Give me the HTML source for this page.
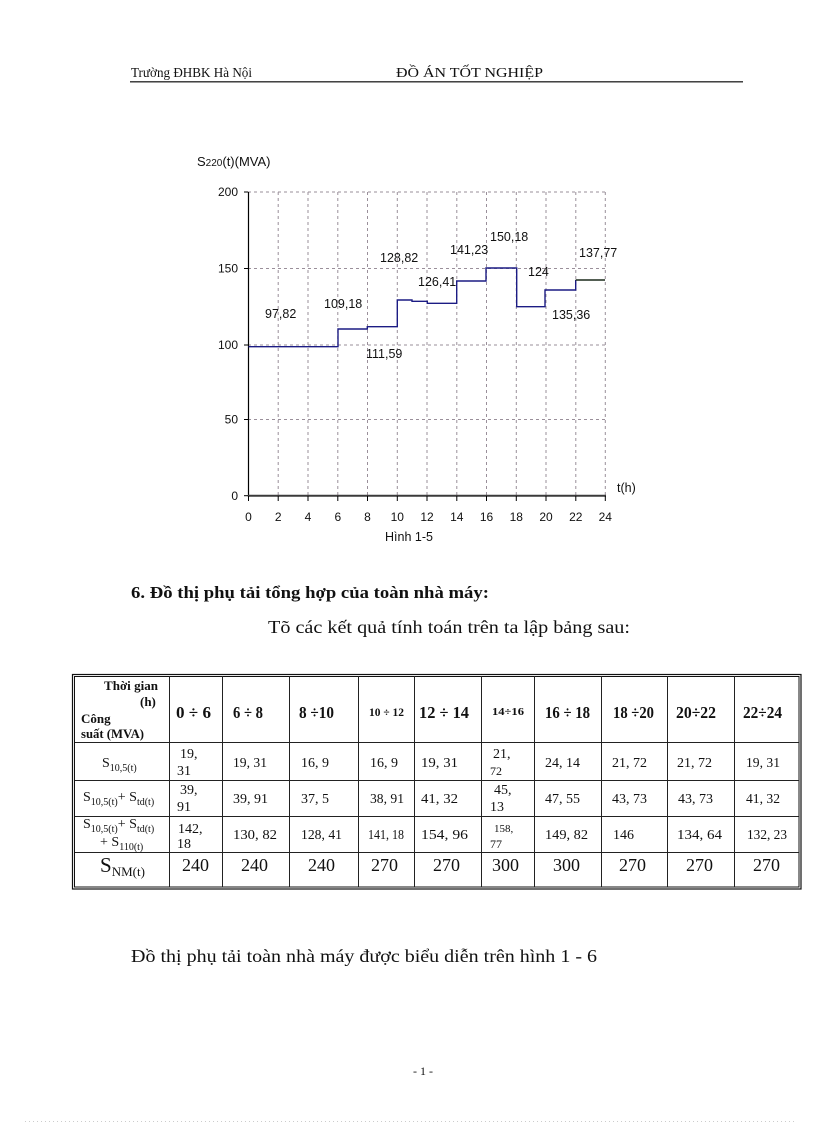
<!DOCTYPE html>
<html><head><meta charset="utf-8"><style>
html,body{margin:0;padding:0;background:#fff;}
svg{display:block;}
.ser{font-family:"Liberation Serif","DejaVu Serif",serif;}
.san{font-family:"Liberation Sans","DejaVu Sans",sans-serif;}
</style></head><body>
<svg width="816" height="1123" viewBox="0 0 816 1123" xmlns="http://www.w3.org/2000/svg">
<rect width="816" height="1123" fill="#fff"/>
<!-- header -->
<g class="ser" font-size="14" fill="#111">
<text x="131" y="77" textLength="121" lengthAdjust="spacingAndGlyphs">Trường  ĐHBK  Hà  Nội</text>
<text x="396" y="77" textLength="147" lengthAdjust="spacingAndGlyphs">ĐỒ ÁN TỐT NGHIỆP</text>
</g>
<line x1="130" y1="81.5" x2="743" y2="81.5" stroke="#444" stroke-width="1"/>
<line x1="130" y1="82.5" x2="743" y2="82.5" stroke="#999" stroke-width="1"/>

<!-- chart -->
<g class="san" font-size="13" fill="#111">
<text x="197" y="166">S<tspan font-size="10">220</tspan>(t)(MVA)</text>
</g>
<g stroke="#9a8f9a" stroke-width="1" stroke-dasharray="3,3">
<line x1="248" y1="192" x2="605" y2="192"/>
<line x1="248" y1="268.5" x2="605" y2="268.5"/>
<line x1="248" y1="345" x2="605" y2="345"/>
<line x1="248" y1="419.5" x2="605" y2="419.5"/>
<line x1="278.2" y1="192" x2="278.2" y2="495"/>
<line x1="308" y1="192" x2="308" y2="495"/>
<line x1="337.8" y1="192" x2="337.8" y2="495"/>
<line x1="367.5" y1="192" x2="367.5" y2="495"/>
<line x1="397.3" y1="192" x2="397.3" y2="495"/>
<line x1="427" y1="192" x2="427" y2="495"/>
<line x1="456.8" y1="192" x2="456.8" y2="495"/>
<line x1="486.5" y1="192" x2="486.5" y2="495"/>
<line x1="516.3" y1="192" x2="516.3" y2="495"/>
<line x1="546" y1="192" x2="546" y2="495"/>
<line x1="575.8" y1="192" x2="575.8" y2="495"/>
<line x1="605.3" y1="192" x2="605.3" y2="495"/>
</g>
<line x1="248.5" y1="192" x2="248.5" y2="497" stroke="#000" stroke-width="1.2"/>
<g stroke="#000" stroke-width="1">
<line x1="244" y1="192" x2="248" y2="192"/>
<line x1="244" y1="268.5" x2="248" y2="268.5"/>
<line x1="244" y1="345" x2="248" y2="345"/>
<line x1="244" y1="419.5" x2="248" y2="419.5"/>
<line x1="244" y1="495.7" x2="248" y2="495.7"/>
</g>
<line x1="248" y1="495.7" x2="606" y2="495.7" stroke="#3a3a3a" stroke-width="2"/>
<g stroke="#000" stroke-width="1">
<line x1="248.5" y1="496" x2="248.5" y2="501"/>
<line x1="278.2" y1="496" x2="278.2" y2="501"/>
<line x1="308" y1="496" x2="308" y2="501"/>
<line x1="337.8" y1="496" x2="337.8" y2="501"/>
<line x1="367.5" y1="496" x2="367.5" y2="501"/>
<line x1="397.3" y1="496" x2="397.3" y2="501"/>
<line x1="427" y1="496" x2="427" y2="501"/>
<line x1="456.8" y1="496" x2="456.8" y2="501"/>
<line x1="486.5" y1="496" x2="486.5" y2="501"/>
<line x1="516.3" y1="496" x2="516.3" y2="501"/>
<line x1="546" y1="496" x2="546" y2="501"/>
<line x1="575.8" y1="496" x2="575.8" y2="501"/>
<line x1="605.3" y1="496" x2="605.3" y2="501"/>
</g>
<path d="M248.5,346.7 H338 V329 H367.3 V326.7 H397.3 V300 H412 V301.3 H427.3 V303.3 H456.7 V281 H486 V268 H516.7 V306.7 H545 V290 H575.7 V280" fill="none" stroke="#1c1c84" stroke-width="1.4"/>
<path d="M575.7,280 H605" fill="none" stroke="#1a2a1a" stroke-width="1.4"/>
<g class="san" font-size="12" fill="#111" text-anchor="end">
<text x="238" y="196">200</text>
<text x="238" y="272.5">150</text>
<text x="238" y="349">100</text>
<text x="238" y="423.5">50</text>
<text x="238" y="500">0</text>
</g>
<g class="san" font-size="12" fill="#111" text-anchor="middle">
<text x="248.5" y="521">0</text>
<text x="278.2" y="521">2</text>
<text x="308" y="521">4</text>
<text x="337.8" y="521">6</text>
<text x="367.5" y="521">8</text>
<text x="397.3" y="521">10</text>
<text x="427" y="521">12</text>
<text x="456.8" y="521">14</text>
<text x="486.5" y="521">16</text>
<text x="516.3" y="521">18</text>
<text x="546" y="521">20</text>
<text x="575.8" y="521">22</text>
<text x="605.3" y="521">24</text>
<text x="409" y="541" font-size="12.5">Hình 1-5</text>
</g>
<g class="san" font-size="12.5" fill="#111">
<text x="617" y="492">t(h)</text>
<text x="265" y="318">97,82</text>
<text x="324" y="308">109,18</text>
<text x="380" y="262">128,82</text>
<text x="418" y="286">126,41</text>
<text x="450" y="254">141,23</text>
<text x="490" y="241">150,18</text>
<text x="528" y="276">124</text>
<text x="579" y="257">137,77</text>
<text x="552" y="319">135,36</text>
<text x="366" y="358">111,59</text>
</g>

<!-- body text -->
<g class="ser" fill="#111">
<text x="131" y="598" font-size="17" font-weight="bold" textLength="358" lengthAdjust="spacingAndGlyphs">6. Đồ thị phụ tải tổng hợp của toàn nhà máy:</text>
<text x="268" y="633" font-size="18" textLength="362" lengthAdjust="spacingAndGlyphs">Tõ các kết quả tính toán trên ta lập bảng sau:</text>
<text x="131" y="962" font-size="18" textLength="466" lengthAdjust="spacingAndGlyphs">Đồ thị phụ tải toàn nhà máy được biểu diễn trên hình 1 - 6</text>
<text x="413" y="1075" font-size="12">- 1 -</text>
</g>
<line x1="25" y1="1121.5" x2="795" y2="1121.5" stroke="#ccc" stroke-width="1" stroke-dasharray="1,3"/>

<!-- table -->
<g fill="none" stroke="#111">
<rect x="72.5" y="674.5" width="728.5" height="214.5" stroke-width="1.2"/>
<rect x="74.5" y="676.5" width="724.5" height="210.5" stroke-width="1"/>
</g>
<g stroke="#222" stroke-width="1">
<line x1="169.5" y1="676" x2="169.5" y2="887"/>
<line x1="222.5" y1="676" x2="222.5" y2="887"/>
<line x1="289.5" y1="676" x2="289.5" y2="887"/>
<line x1="358.5" y1="676" x2="358.5" y2="887"/>
<line x1="414.5" y1="676" x2="414.5" y2="887"/>
<line x1="481.5" y1="676" x2="481.5" y2="887"/>
<line x1="534.5" y1="676" x2="534.5" y2="887"/>
<line x1="601.5" y1="676" x2="601.5" y2="887"/>
<line x1="667.5" y1="676" x2="667.5" y2="887"/>
<line x1="734.5" y1="676" x2="734.5" y2="887"/>
<line x1="75" y1="742.5" x2="799" y2="742.5"/>
<line x1="75" y1="780.5" x2="799" y2="780.5"/>
<line x1="75" y1="816.5" x2="799" y2="816.5"/>
<line x1="75" y1="852.5" x2="799" y2="852.5"/>
</g>
<g class="ser" fill="#111" font-weight="bold" font-size="13">
<text x="104" y="690" textLength="54" lengthAdjust="spacingAndGlyphs">Thời gian</text>
<text x="140" y="706">(h)</text>
<text x="81" y="723">Công</text>
<text x="81" y="738" textLength="63" lengthAdjust="spacingAndGlyphs">suất (MVA)</text>
</g>
<g class="ser" fill="#111" font-weight="bold" font-size="17">
<text x="176" y="718" textLength="35" lengthAdjust="spacingAndGlyphs">0 ÷ 6</text>
<text x="233" y="718" textLength="30" lengthAdjust="spacingAndGlyphs">6 ÷ 8</text>
<text x="299" y="718" textLength="35" lengthAdjust="spacingAndGlyphs">8 ÷10</text>
<text x="369" y="716" font-size="12" textLength="35" lengthAdjust="spacingAndGlyphs">10 ÷ 12</text>
<text x="419" y="718" textLength="50" lengthAdjust="spacingAndGlyphs">12 ÷ 14</text>
<text x="492" y="715" font-size="10" textLength="32" lengthAdjust="spacingAndGlyphs">14÷16</text>
<text x="545" y="718" textLength="45" lengthAdjust="spacingAndGlyphs">16 ÷ 18</text>
<text x="613" y="718" textLength="41" lengthAdjust="spacingAndGlyphs">18 ÷20</text>
<text x="676" y="718" textLength="40" lengthAdjust="spacingAndGlyphs">20÷22</text>
<text x="743" y="718" textLength="39" lengthAdjust="spacingAndGlyphs">22÷24</text>
</g>
<g class="ser" fill="#111" font-size="14">
<!-- row 1 -->
<text x="102" y="767">S<tspan font-size="10" dy="4">10,5(t)</tspan></text>
<text x="180" y="758">19,</text>
<text x="177" y="775">31</text>
<text x="233" y="767" textLength="34" lengthAdjust="spacingAndGlyphs">19, 31</text>
<text x="301" y="767">16, 9</text>
<text x="370" y="767">16, 9</text>
<text x="421" y="767" textLength="37" lengthAdjust="spacingAndGlyphs">19, 31</text>
<text x="493" y="758">21,</text>
<text x="490" y="775" font-size="12">72</text>
<text x="545" y="767" textLength="35" lengthAdjust="spacingAndGlyphs">24, 14</text>
<text x="612" y="767" textLength="35" lengthAdjust="spacingAndGlyphs">21, 72</text>
<text x="677" y="767" textLength="35" lengthAdjust="spacingAndGlyphs">21, 72</text>
<text x="746" y="767" textLength="34" lengthAdjust="spacingAndGlyphs">19, 31</text>
<!-- row 2 -->
<text x="83" y="801">S<tspan font-size="10" dy="4">10,5(t)</tspan><tspan dy="-4">+ S</tspan><tspan font-size="10" dy="4">td(t)</tspan></text>
<text x="180" y="794">39,</text>
<text x="177" y="811">91</text>
<text x="233" y="803" textLength="35" lengthAdjust="spacingAndGlyphs">39, 91</text>
<text x="301" y="803">37, 5</text>
<text x="370" y="803" textLength="34" lengthAdjust="spacingAndGlyphs">38, 91</text>
<text x="421" y="803" textLength="37" lengthAdjust="spacingAndGlyphs">41, 32</text>
<text x="494" y="794">45,</text>
<text x="490" y="811">13</text>
<text x="545" y="803" textLength="35" lengthAdjust="spacingAndGlyphs">47, 55</text>
<text x="612" y="803" textLength="35" lengthAdjust="spacingAndGlyphs">43, 73</text>
<text x="678" y="803" textLength="35" lengthAdjust="spacingAndGlyphs">43, 73</text>
<text x="746" y="803" textLength="34" lengthAdjust="spacingAndGlyphs">41, 32</text>
<!-- row 3 -->
<text x="83" y="828">S<tspan font-size="10" dy="4">10,5(t)</tspan><tspan dy="-4">+ S</tspan><tspan font-size="10" dy="4">td(t)</tspan></text>
<text x="100" y="846">+ S<tspan font-size="10" dy="4">110(t)</tspan></text>
<text x="178" y="833">142,</text>
<text x="177" y="848">18</text>
<text x="233" y="839" textLength="44" lengthAdjust="spacingAndGlyphs">130, 82</text>
<text x="301" y="839" textLength="41" lengthAdjust="spacingAndGlyphs">128, 41</text>
<text x="368" y="839" textLength="36" lengthAdjust="spacingAndGlyphs">141, 18</text>
<text x="421" y="839" textLength="47" lengthAdjust="spacingAndGlyphs">154, 96</text>
<text x="494" y="832" font-size="11">158,</text>
<text x="490" y="848" font-size="12">77</text>
<text x="545" y="839" textLength="43" lengthAdjust="spacingAndGlyphs">149, 82</text>
<text x="613" y="839">146</text>
<text x="677" y="839" textLength="45" lengthAdjust="spacingAndGlyphs">134, 64</text>
<text x="747" y="839" textLength="40" lengthAdjust="spacingAndGlyphs">132, 23</text>
</g>
<g class="ser" fill="#111" font-size="18">
<text x="100" y="872" font-size="21">S<tspan font-size="13" dy="4">NM(t)</tspan></text>
<text x="182" y="871">240</text>
<text x="241" y="871">240</text>
<text x="308" y="871">240</text>
<text x="371" y="871">270</text>
<text x="433" y="871">270</text>
<text x="492" y="871">300</text>
<text x="553" y="871">300</text>
<text x="619" y="871">270</text>
<text x="686" y="871">270</text>
<text x="753" y="871">270</text>
</g>
</svg>
</body></html>
